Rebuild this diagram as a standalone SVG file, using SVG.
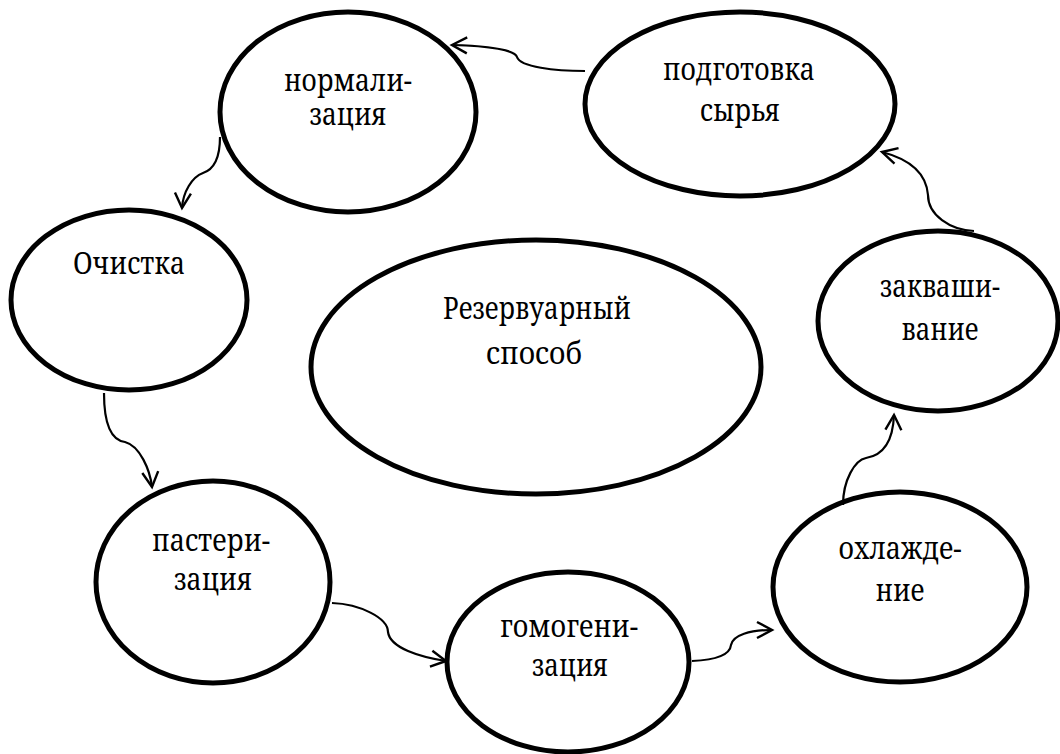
<svg xmlns="http://www.w3.org/2000/svg" width="1060" height="754" viewBox="0 0 1060 754">
<style>
.node ellipse{fill:#fff;stroke:#000;stroke-width:5}
.node text{font-family:"Noto Serif","Liberation Serif","DejaVu Serif",serif;font-size:31px;fill:#000;text-anchor:middle}
.conn path{fill:none;stroke:#000;stroke-width:2.2;marker-end:url(#arr)}
</style>
<defs>
<marker id="arr" markerUnits="userSpaceOnUse" markerWidth="24" markerHeight="24" viewBox="-20 -12 24 24" refX="0" refY="0" orient="auto" overflow="visible">
<path d="M-15,-8 L0,0 L-15,8" fill="none" stroke="#000" stroke-width="2.4"/>
</marker>
</defs>
<rect width="1060" height="754" fill="#fff"/>
<g id="n-normalizatsiya" class="node">
<ellipse cx="348" cy="112" rx="128" ry="100"/>
<text x="348" y="91" textLength="128" lengthAdjust="spacingAndGlyphs">нормали-</text>
<text x="348" y="125" textLength="77" lengthAdjust="spacingAndGlyphs">зация</text>
</g>
<g id="n-podgotovka" class="node">
<ellipse cx="740" cy="104" rx="155" ry="92"/>
<text x="739" y="80" textLength="152" lengthAdjust="spacingAndGlyphs">подготовка</text>
<text x="740" y="121" textLength="80" lengthAdjust="spacingAndGlyphs">сырья</text>
</g>
<g id="n-ochistka" class="node">
<ellipse cx="129" cy="300" rx="118" ry="90"/>
<text x="129" y="274" textLength="112" lengthAdjust="spacingAndGlyphs">Очистка</text>
</g>
<g id="n-rezervuar" class="node">
<ellipse cx="536" cy="367" rx="225" ry="127"/>
<text x="537" y="319" textLength="188" lengthAdjust="spacingAndGlyphs">Резервуарный</text>
<text x="534" y="364" textLength="96" lengthAdjust="spacingAndGlyphs">способ</text>
</g>
<g id="n-zakvash" class="node">
<ellipse cx="938" cy="321" rx="120" ry="90"/>
<text x="940" y="297" textLength="120" lengthAdjust="spacingAndGlyphs">закваши-</text>
<text x="940" y="340" textLength="77" lengthAdjust="spacingAndGlyphs">вание</text>
</g>
<g id="n-pasteriz" class="node">
<ellipse cx="213" cy="582" rx="117" ry="101"/>
<text x="211" y="551" textLength="118" lengthAdjust="spacingAndGlyphs">пастери-</text>
<text x="213" y="590" textLength="78" lengthAdjust="spacingAndGlyphs">зация</text>
</g>
<g id="n-gomogen" class="node">
<ellipse cx="568" cy="662" rx="121" ry="90"/>
<text x="569" y="637" textLength="138" lengthAdjust="spacingAndGlyphs">гомогени-</text>
<text x="570" y="676" textLength="76" lengthAdjust="spacingAndGlyphs">зация</text>
</g>
<g id="n-okhlazhd" class="node">
<ellipse cx="900" cy="587" rx="127" ry="95"/>
<text x="900" y="559" textLength="123" lengthAdjust="spacingAndGlyphs">охлажде-</text>
<text x="900" y="601" textLength="49" lengthAdjust="spacingAndGlyphs">ние</text>
</g>
<g id="connectors" class="conn">
<path d="M585,71 C555,71 520,67 517,57 C515,50 490,46 452,45"/>
<path d="M220,137 C220,160 212,170 203,173 C192,177 183,192 182,208"/>
<path d="M104,393 C104,420 110,440 125,442 C140,446 150,470 152,487"/>
<path d="M332,603 C360,604 388,618 388,632 C390,648 420,657 446,661"/>
<path d="M692,661 C715,660 730,655 731,645 C733,635 750,630 772,630"/>
<path d="M843,505 C843,480 855,460 866,458 C885,455 893,440 894,415"/>
<path d="M974,231 C950,230 928,215 928,195 C926,170 905,158 882,152"/>
</g>
</svg>
